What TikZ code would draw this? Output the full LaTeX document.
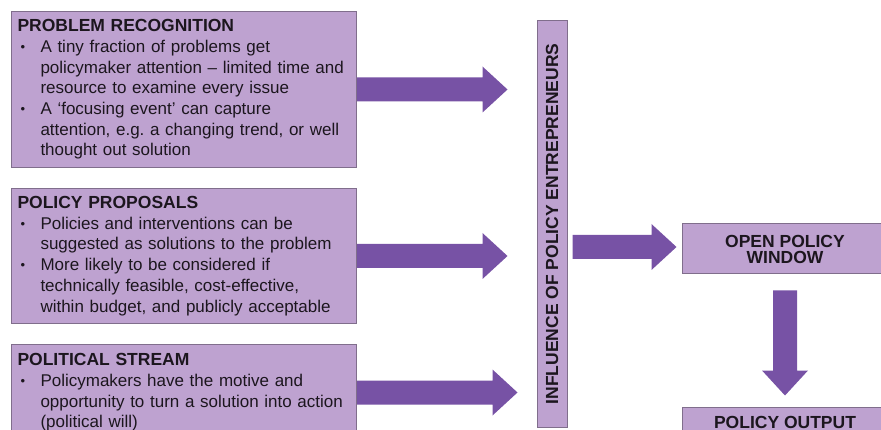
\documentclass[tikz,border=0pt]{standalone}
\usepackage{fontspec}
\setmainfont{Liberation Sans}
\usepackage{tikz}
\usetikzlibrary{calc,positioning}
\usepackage{xcolor}
\definecolor{LilacL}{RGB}{190,162,208}
\definecolor{LilacE}{RGB}{128,110,140}
\definecolor{PurpM} {RGB}{119, 82,165}
\definecolor{InkD}  {RGB}{ 28, 22, 30}

\newcommand\boxhead[1]{{\fontsize{17.5}{20.7}\selectfont\bfseries #1}}
\newcommand\bulitem{\hspace*{3pt}\makebox[20pt][l]{\raisebox{1pt}{\fontsize{13}{13}\selectfont\textbullet}}}
\newcommand\bulcont{\hspace*{23pt}}
% fat arrow from #1 to the tip #2
\newcommand\blockarrow[2]{%
  \coordinate (ah) at ($(#2)!25pt!(#1)$);
  \fill[PurpM] ($(#1)!12pt!90:(#2)$) -- ($(ah)!12pt!90:(#2)$)
    -- ($(ah)!23pt!90:(#2)$) -- (#2) -- ($(ah)!23pt!-90:(#2)$)
    -- ($(ah)!12pt!-90:(#2)$) -- ($(#1)!12pt!-90:(#2)$) -- cycle;}

\begin{document}
\frenchspacing
\begin{tikzpicture}[x=1pt,y=-1pt,
    stream/.style={draw=LilacE,line width=1pt,fill=LilacL,text=InkD,
      anchor=north west,text width=333pt,inner xsep=6pt,inner ysep=0pt,
      align=left,font=\fontsize{17}{20.7}\selectfont},
    stage/.style={draw=LilacE,line width=1pt,fill=LilacL,text=InkD,
      minimum width=206pt,inner sep=0pt,align=center,
      font=\fontsize{17.5}{16}\selectfont\bfseries}]
  \useasboundingbox (0,0) rectangle (881,430);
  \clip (0,0) rectangle (881,430);

  \node[stream,minimum height=156pt] (recog) at (11,11) {%
    \boxhead{PROBLEM RECOGNITION}\\
    \bulitem A tiny fraction of problems get\\
    \bulcont policymaker attention -- limited time and\\
    \bulcont resource to examine every issue\\
    \bulitem A `focusing event' can capture\\
    \bulcont attention, e.g.\ a changing trend, or well\\
    \bulcont thought out solution};
  \node[stream,minimum height=135pt,below=20pt of recog] (prop) {%
    \boxhead{POLICY PROPOSALS}\\
    \bulitem Policies and interventions can be\\
    \bulcont suggested as solutions to the problem\\
    \bulitem More likely to be considered if\\
    \bulcont technically feasible, cost-effective,\\
    \bulcont within budget, and publicly acceptable};
  \node[stream,minimum height=96pt,below=20pt of prop] (polit) {%
    \boxhead{POLITICAL STREAM}\\
    \bulitem Policymakers have the motive and\\
    \bulcont opportunity to turn a solution into action\\
    \bulcont (political will)};

  \node[draw=LilacE,line width=1pt,fill=LilacL,text=InkD,anchor=north,
    minimum width=30pt,minimum height=407pt,inner sep=0pt,
    font=\fontsize{17.5}{20}\selectfont\bfseries] (infl) at (552,20)
    {\rotatebox{90}{INFLUENCE OF POLICY ENTREPRENEURS}};

  \node[stage,minimum height=50pt] (window) at (785,249) {OPEN POLICY\\WINDOW};
  \node[stage,minimum height=30pt,below=132pt of window] (output) {POLICY OUTPUT};

  \coordinate (tip1) at ($(recog.east -| infl.west)+(-29,0)$);
  \coordinate (tip2) at ($(prop.east -| infl.west)+(-29,0)$);
  \coordinate (tip3) at ($(polit.east -| infl.west)+(-19,0)$);
  \coordinate (src4) at ($(window.west -| infl.east)+(5,-2)$);
  \coordinate (tip4) at ($(window.west)+(-5,-2)$);
  \coordinate (src5) at ($(window.south)+(0,16)$);
  \coordinate (tip5) at ($(output.north)+(0,-11)$);

  \blockarrow{recog.east}{tip1}
  \blockarrow{prop.east}{tip2}
  \blockarrow{polit.east}{tip3}
  \blockarrow{src4}{tip4}
  \blockarrow{src5}{tip5}
\end{tikzpicture}
\end{document}
